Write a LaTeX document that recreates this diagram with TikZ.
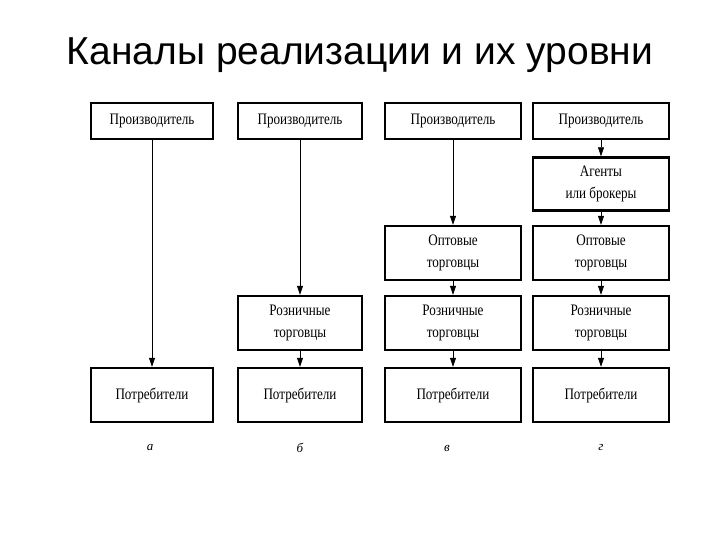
\documentclass[tikz,border=0pt]{standalone}
\usepackage{fontspec}
\setmainfont{Liberation Serif}
\newfontfamily\titlefont{Liberation Sans}
\newfontfamily\boxfont[FakeStretch=0.82]{Liberation Serif}
\usetikzlibrary{arrows.meta}
\begin{document}
\begin{tikzpicture}[x=1pt,y=-1pt,
  bx/.style={draw,line width=2.4pt,inner sep=0pt,align=center,font=\boxfont\fontsize{16}{22}\selectfont},
  ar/.style={-{Triangle[length=9pt,width=6pt]},line width=0.7pt},
  lab/.style={font=\itshape\fontsize{13}{15}\selectfont}]
\useasboundingbox (0,0) rectangle (720,540);
\node[font=\titlefont\fontsize{39}{46}\selectfont] (t) at (360,55) {Каналы реализации и их уровни};
% column a
\node[bx,minimum width=122pt,minimum height=36pt] (p1) at (152,121) {Производитель};
\node[bx,minimum width=122pt,minimum height=54pt] (c1) at (152,395) {Потребители};
% column b
\node[bx,minimum width=124pt,minimum height=36pt] (p2) at (300,121) {Производитель};
\node[bx,minimum width=124pt,minimum height=54pt] (r2) at (300,323) {Розничные\\торговцы};
\node[bx,minimum width=124pt,minimum height=54pt] (c2) at (300,395) {Потребители};
% column c
\node[bx,minimum width=136pt,minimum height=36pt] (p3) at (453,121) {Производитель};
\node[bx,minimum width=136pt,minimum height=54pt] (o3) at (453,253) {Оптовые\\торговцы};
\node[bx,minimum width=136pt,minimum height=54pt] (r3) at (453,323) {Розничные\\торговцы};
\node[bx,minimum width=136pt,minimum height=54pt] (c3) at (453,395) {Потребители};
% column d
\node[bx,minimum width=136pt,minimum height=36pt] (p4) at (601,121) {Производитель};
\node[bx,minimum width=136pt,minimum height=53pt] (a4) at (601,184) {Агенты\\или брокеры};
\node[bx,minimum width=136pt,minimum height=54pt] (o4) at (601,253) {Оптовые\\торговцы};
\node[bx,minimum width=136pt,minimum height=54pt] (r4) at (601,323) {Розничные\\торговцы};
\node[bx,minimum width=136pt,minimum height=54pt] (c4) at (601,395) {Потребители};
% arrows
\draw[ar] (p1) -- (c1);
\draw[ar] (p2) -- (r2);
\draw[ar] (r2) -- (c2);
\draw[ar] (p3) -- (o3);
\draw[ar] (o3) -- (r3);
\draw[ar] (r3) -- (c3);
\draw[ar] (p4) -- (a4);
\draw[ar] (a4) -- (o4);
\draw[ar] (o4) -- (r4);
\draw[ar] (r4) -- (c4);
% labels
\node[lab] (la) at (150,448) {а};
\node[lab] (lb) at (300,448) {б};
\node[lab] (lc) at (447,448) {в};
\node[lab] (ld) at (601,448) {г};
\end{tikzpicture}
\end{document}
